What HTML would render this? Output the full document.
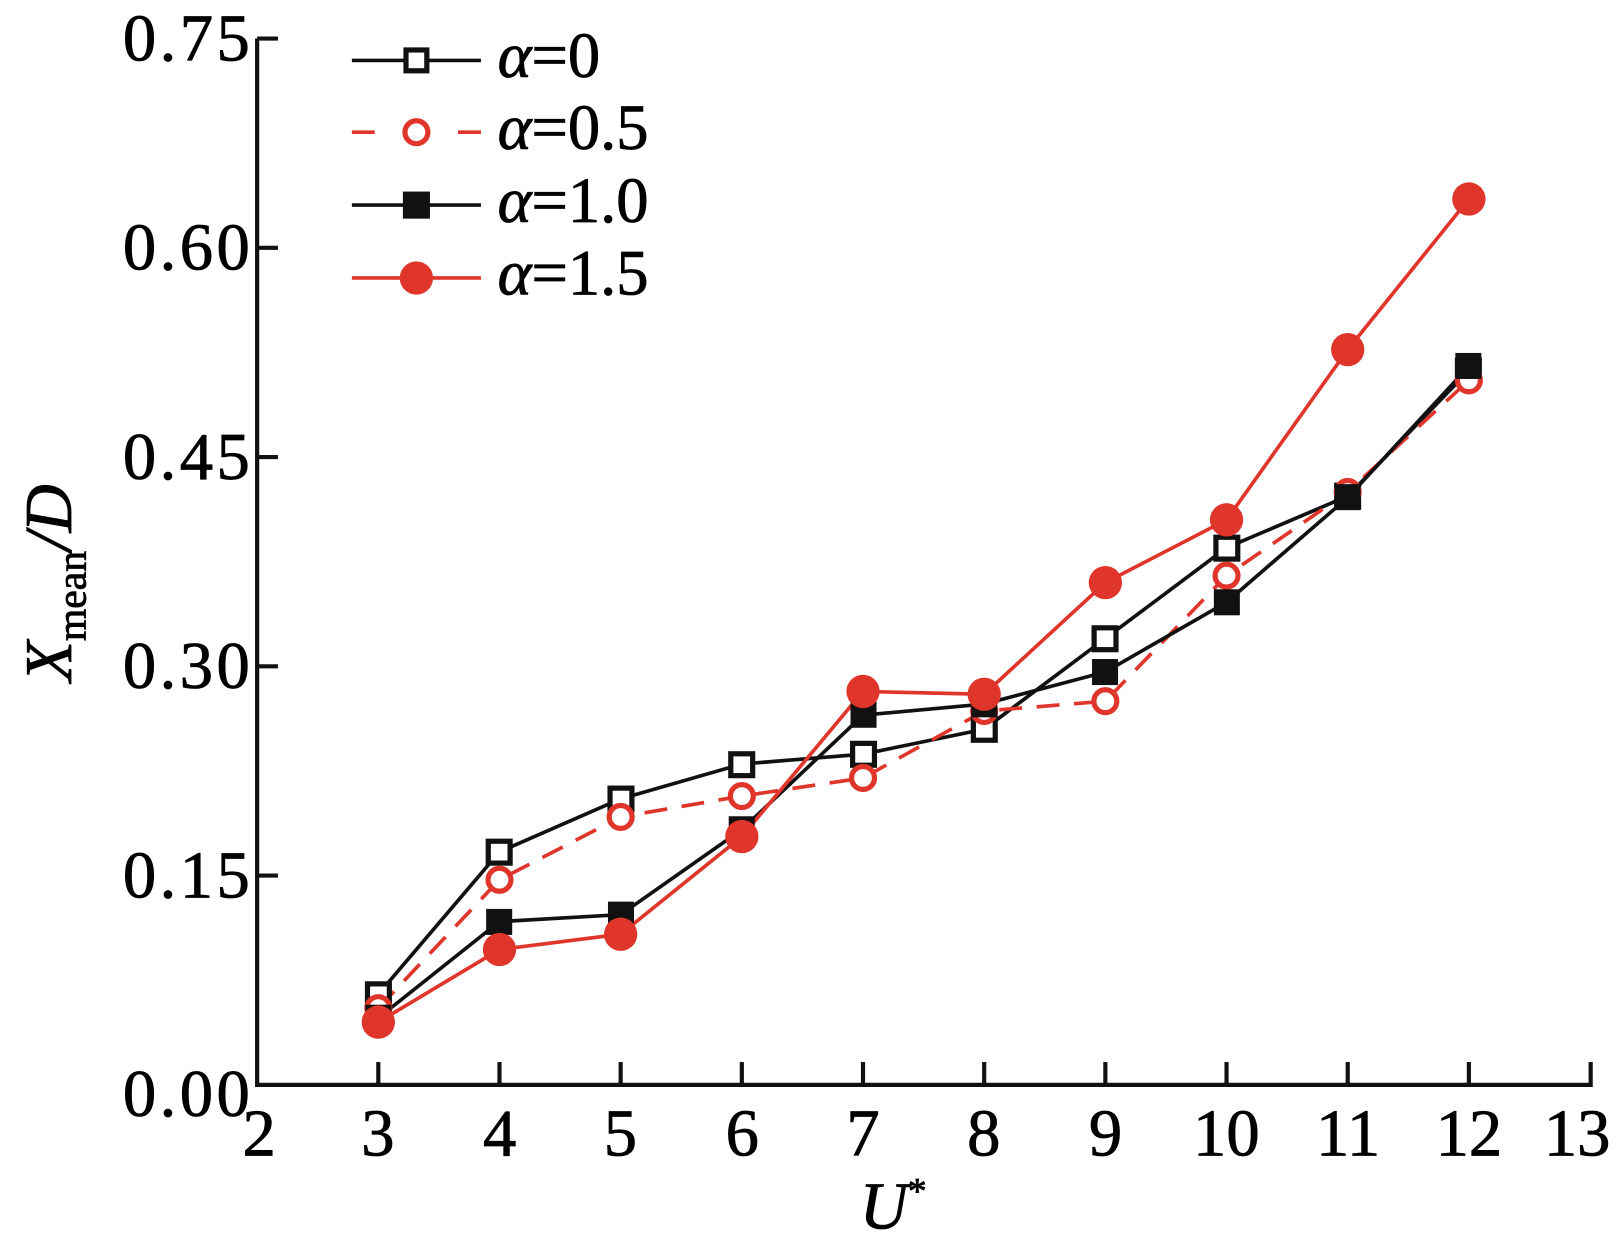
<!DOCTYPE html>
<html><head><meta charset="utf-8"><style>
html,body{margin:0;padding:0;background:#fff}
svg{display:block}
text{font-family:"Liberation Serif",serif;fill:#000}
</style></head><body>
<svg width="1624" height="1240" viewBox="0 0 1560 1191" preserveAspectRatio="none" xmlns="http://www.w3.org/2000/svg">
<rect width="1560" height="1191" fill="#fff"/>
<g stroke="#111" stroke-width="4" fill="none">
<path d="M247 37 V1042 H1528 V1020"/>
<path d="M247 37 h20 M247 238 h20 M247 439 h20 M247 640 h20 M247 841 h20"/>
<path d="M363.4 1042 v-22 M479.8 1042 v-22 M596.2 1042 v-22 M712.6 1042 v-22 M829 1042 v-22 M945.4 1042 v-22 M1061.8 1042 v-22 M1178.2 1042 v-22 M1294.6 1042 v-22 M1411 1042 v-22"/>
</g>
<g font-size="64" text-anchor="end" stroke="#000" stroke-width="0.8">
<text x="240" y="58" textLength="122">0.75</text>
<text x="240" y="259" textLength="122">0.60</text>
<text x="240" y="460" textLength="122">0.45</text>
<text x="240" y="661" textLength="122">0.30</text>
<text x="240" y="862" textLength="122">0.15</text>
<text x="240" y="1072" textLength="122">0.00</text>
</g>
<g font-size="64" text-anchor="middle" stroke="#000" stroke-width="0.8">
<text x="249" y="1110">2</text><text x="363" y="1110">3</text><text x="480" y="1110">4</text><text x="596" y="1110">5</text><text x="713" y="1110">6</text><text x="829" y="1110">7</text><text x="945" y="1110">8</text><text x="1062" y="1110">9</text><text x="1178" y="1110">10</text><text x="1295" y="1110">11</text><text x="1411" y="1110">12</text><text x="1515" y="1110">13</text>
</g>
<text x="858" y="1180" font-size="64" stroke="#000" stroke-width="0.8" font-style="italic" text-anchor="middle">U<tspan font-size="36" dy="-24" font-style="normal">*</tspan></text>
<text transform="translate(68,560) rotate(-90)" font-size="64" stroke="#000" stroke-width="0.8" text-anchor="middle"><tspan font-style="italic">X</tspan><tspan font-size="40" dy="14">mean</tspan><tspan dy="-14" font-style="italic">/D</tspan></text>
<g fill="none" stroke-width="3.5">
<polyline stroke="#111" points="363.4,954.9 479.8,818.2 596.2,767.3 712.6,733.8 829,724.4 945.4,700.3 1061.8,613.2 1178.2,526.1 1294.6,476.5 1411,355.9"/>
<polyline stroke="#e0352b" stroke-dasharray="22,14" points="363.4,968.3 479.8,845 596.2,784.7 712.6,764.6 829,747.2 945.4,682.9 1061.8,673.5 1178.2,552.9 1294.6,472.5 1411,365.3"/>
<polyline stroke="#111" points="363.4,977.7 479.8,885.2 596.2,878.5 712.6,796.8 829,686.9 945.4,676.2 1061.8,645.4 1178.2,578.4 1294.6,477.9 1411,351.9"/>
<polyline stroke="#e0352b" points="363.4,981.7 479.8,912 596.2,897.3 712.6,803.5 829,664.1 945.4,666.8 1061.8,559.6 1178.2,499.3 1294.6,335.8 1411,191.1"/>
</g>
<g fill="#fff" stroke="#111" stroke-width="5">
<rect x="353" y="945" width="21" height="21"/><rect x="469" y="808" width="21" height="21"/><rect x="586" y="757" width="21" height="21"/><rect x="702" y="724" width="21" height="21"/><rect x="819" y="714" width="21" height="21"/><rect x="935" y="690" width="21" height="21"/><rect x="1051" y="603" width="21" height="21"/><rect x="1168" y="516" width="21" height="21"/><rect x="1284" y="466" width="21" height="21"/><rect x="1400" y="346" width="21" height="21"/>
</g>
<g fill="#fff" stroke="#e0352b" stroke-width="5">
<circle cx="363.4" cy="968.3" r="11"/><circle cx="479.8" cy="845" r="11"/><circle cx="596.2" cy="784.7" r="11"/><circle cx="712.6" cy="764.6" r="11"/><circle cx="829" cy="747.2" r="11"/><circle cx="945.4" cy="682.9" r="11"/><circle cx="1061.8" cy="673.5" r="11"/><circle cx="1178.2" cy="552.9" r="11"/><circle cx="1294.6" cy="472.5" r="11"/><circle cx="1411" cy="365.3" r="11"/>
</g>
<g fill="#111">
<rect x="351" y="965" width="25" height="25"/><rect x="467" y="873" width="25" height="25"/><rect x="584" y="866" width="25" height="25"/><rect x="700" y="784" width="25" height="25"/><rect x="817" y="674" width="25" height="25"/><rect x="933" y="664" width="25" height="25"/><rect x="1049" y="633" width="25" height="25"/><rect x="1166" y="566" width="25" height="25"/><rect x="1282" y="465" width="25" height="25"/><rect x="1398" y="339" width="25" height="25"/>
</g>
<g fill="#e0352b">
<circle cx="363.4" cy="981.7" r="16"/><circle cx="479.8" cy="912" r="16"/><circle cx="596.2" cy="897.3" r="16"/><circle cx="712.6" cy="803.5" r="16"/><circle cx="829" cy="664.1" r="16"/><circle cx="945.4" cy="666.8" r="16"/><circle cx="1061.8" cy="559.6" r="16"/><circle cx="1178.2" cy="499.3" r="16"/><circle cx="1294.6" cy="335.8" r="16"/><circle cx="1411" cy="191.1" r="16"/>
</g>
<g stroke-width="3.5">
<line x1="338" y1="58" x2="462" y2="58" stroke="#111"/>
<rect x="390" y="48" width="20" height="20" fill="#fff" stroke="#111" stroke-width="5"/>
<line x1="338" y1="127" x2="360" y2="127" stroke="#e0352b"/><line x1="440" y1="127" x2="462" y2="127" stroke="#e0352b"/>
<circle cx="400" cy="127" r="11" fill="#fff" stroke="#e0352b" stroke-width="5"/>
<line x1="338" y1="197" x2="462" y2="197" stroke="#111"/>
<rect x="387" y="184" width="26" height="26" fill="#111"/>
<line x1="338" y1="267" x2="462" y2="267" stroke="#e0352b"/>
<circle cx="400" cy="267" r="16" fill="#e0352b"/>
</g>
<g font-size="62" stroke="#000" stroke-width="0.8">
<text x="478" y="74"><tspan font-style="italic">α</tspan>=0</text>
<text x="478" y="143"><tspan font-style="italic">α</tspan>=0.5</text>
<text x="478" y="213"><tspan font-style="italic">α</tspan>=1.0</text>
<text x="478" y="283"><tspan font-style="italic">α</tspan>=1.5</text>
</g>
</svg>
</body></html>
